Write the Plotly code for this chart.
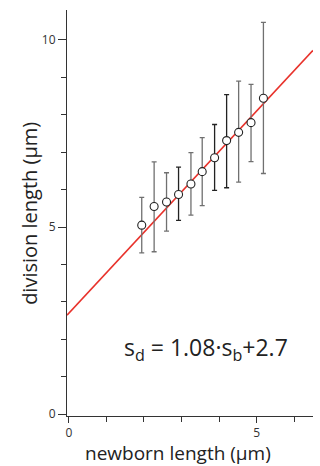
import plotly.graph_objects as go

newborn = [1.94, 2.27, 2.60, 2.92, 3.25, 3.55, 3.88, 4.20, 4.52, 4.85, 5.18]
division = [5.05, 5.55, 5.67, 5.87, 6.15, 6.48, 6.85, 7.31, 7.53, 7.79, 8.44]
err_top = [5.79, 6.74, 6.45, 6.60, 6.99, 7.39, 7.74, 8.54, 8.90, 8.81, 10.47]
err_bot = [4.31, 4.34, 4.89, 5.18, 5.32, 5.57, 5.98, 6.05, 6.20, 6.75, 6.43]
bar_dark = [False, False, False, True, False, False, True, True, False, False, False]
slope, intercept = 1.08, 2.7
fit_x = [-0.05, 6.5]

FONT = "Open Sans"
fig = go.Figure()

# fit line
fig.add_trace(go.Scatter(x=fit_x, y=[slope * v + intercept for v in fit_x], mode="lines",
                         line=dict(color="#e8322b", width=1.6), hoverinfo="skip", showlegend=False))

# error bars split by color
for dark, col in [(False, "#707070"), (True, "#222222")]:
    idx = [i for i, d in enumerate(bar_dark) if d == dark]
    fig.add_trace(go.Scatter(
        x=[newborn[i] for i in idx], y=[division[i] for i in idx], mode="markers",
        marker=dict(size=1, color="rgba(0,0,0,0)"),
        error_y=dict(type="data", symmetric=False,
                     array=[err_top[i] - division[i] for i in idx],
                     arrayminus=[division[i] - err_bot[i] for i in idx],
                     color=col, thickness=1.3, width=2.5),
        showlegend=False, hoverinfo="skip"))

# markers
fig.add_trace(go.Scatter(x=newborn, y=division, mode="markers",
                         marker=dict(size=8, color="white", line=dict(color="#222", width=1.1)),
                         showlegend=False))

axis_common = dict(showgrid=False, zeroline=False, showline=True, linecolor="#333", linewidth=1,
                   ticks="outside", tickcolor="#333", tickwidth=1,
                   tickfont=dict(family=FONT, size=12, color="#333"))

fig.update_xaxes(range=[-0.05, 6.5], tickvals=[0, 5], ticktext=["0", "5"], ticklen=6,
                 minor=dict(dtick=1, tick0=0, ticks="outside", ticklen=5, tickcolor="#333"),
                 **axis_common)
fig.update_yaxes(range=[-0.05, 10.8], tickvals=[0, 5, 10], ticktext=["0", "5", "10"], ticklen=8,
                 minor=dict(dtick=1, tick0=0, ticks="outside", ticklen=5, tickcolor="#333"),
                 **axis_common)

fig.add_annotation(text="division length (µm)", xref="paper", yref="paper", x=-0.155, y=0.5,
                   textangle=-90, showarrow=False, xanchor="center", yanchor="middle",
                   font=dict(family=FONT, size=20, color="#222"))
fig.add_annotation(text="newborn length (µm)", xref="paper", yref="paper", x=0.45, y=-0.091,
                   showarrow=False, xanchor="center", yanchor="middle",
                   font=dict(family=FONT, size=19, color="#222"))
fig.add_annotation(text="s<sub>d</sub> = 1.08·s<sub>b</sub>+2.7", x=3.65, y=1.75,
                   showarrow=False, xanchor="center", yanchor="middle",
                   font=dict(family=FONT, size=23, color="#222"))

fig.update_layout(width=320, height=466, margin=dict(l=67, r=7, t=10, b=50),
                  plot_bgcolor="white", paper_bgcolor="white")
fig.write_html("out.html")
